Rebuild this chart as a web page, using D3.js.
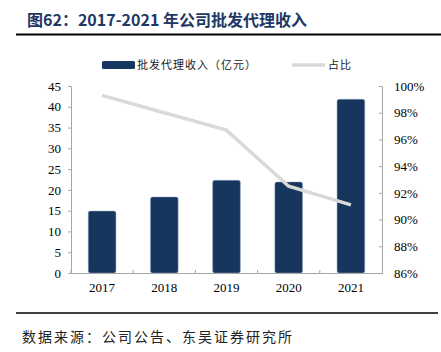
<!DOCTYPE html>
<html>
<head>
<meta charset="utf-8">
<script src="https://cdn.jsdelivr.net/npm/d3@7"></script>
<style>
  body { margin: 0; background: #fff; }
  svg { display: block; }
  .axis text { font-family: "Liberation Serif", "Times New Roman", serif; font-size: 13px; fill: #000; }
  .axis path, .axis line { stroke: #a6a6a6; }
</style>
</head>
<body>
<svg id="chart" width="441" height="352"></svg>
<script>
var years = ["2017", "2018", "2019", "2020", "2021"];
var revenue = [14.9, 18.3, 22.3, 21.9, 41.8];
var share = [99.3, 98.0, 96.7, 92.5, 91.1];
var leftTicks = [0, 5, 10, 15, 20, 25, 30, 35, 40, 45];
var rightTicks = [86, 88, 90, 92, 94, 96, 98, 100];

var svg = d3.select("svg#chart"),
    margin = {top: 86, right: 59, bottom: 79, left: 71},
    width = +svg.attr("width") - margin.left - margin.right,
    height = +svg.attr("height") - margin.top - margin.bottom,
    g = svg.append("g").attr("transform", "translate(" + margin.left + "," + margin.top + ")");

// title + rules
svg.append("text")
    .attr("x", 27).attr("y", 26)
    .attr("font-family", "'Noto Sans CJK SC', sans-serif")
    .attr("font-weight", "bold")
    .attr("font-size", 16)
    .attr("fill", "#1f3864")
    .text("图62：2017-2021 年公司批发代理收入");

svg.append("line")
    .attr("x1", 16).attr("x2", 441).attr("y1", 34.5).attr("y2", 34.5)
    .attr("stroke", "#000").attr("stroke-width", 2);

svg.append("line")
    .attr("x1", 16).attr("x2", 438).attr("y1", 313).attr("y2", 313)
    .attr("stroke", "#000").attr("stroke-width", 1.5);

svg.append("text")
    .attr("x", 22).attr("y", 342)
    .attr("font-family", "'Noto Sans CJK SC', sans-serif")
    .attr("font-size", 14)
    .attr("letter-spacing", 2)
    .attr("fill", "#222")
    .text("数据来源：公司公告、东吴证券研究所");

var x = d3.scaleBand()
    .domain(years)
    .range([0, width])
    .paddingInner(0.555)
    .paddingOuter(0.2775);

var y = d3.scaleLinear().domain([0, 45]).range([height, 0]);
var y2 = d3.scaleLinear().domain([86, 100]).range([height, 0]);

// bars
g.append("g")
  .selectAll("rect")
  .data(years)
  .enter().append("rect")
    .attr("x", function(d) { return x(d); })
    .attr("y", function(d, i) { return y(revenue[i]); })
    .attr("width", x.bandwidth())
    .attr("height", function(d, i) { return height - y(revenue[i]); })
    .attr("rx", 2)
    .attr("fill", "#17365d")
    .attr("stroke", "#8ea3bd")
    .attr("stroke-width", 0.5);

// axes
g.append("g")
    .attr("class", "axis")
    .call(d3.axisLeft(y).tickValues(leftTicks).tickSize(3).tickPadding(7));

g.append("g")
    .attr("class", "axis")
    .attr("transform", "translate(" + width + ",0)")
    .call(d3.axisRight(y2).tickValues(rightTicks).tickSize(-3).tickPadding(12)
        .tickFormat(function(d) { return d + "%"; }));

var bx = g.append("g")
    .attr("class", "axis")
    .attr("transform", "translate(0," + height + ")")
    .call(d3.axisBottom(x).tickSize(0).tickPadding(10));

// category separators on x axis
bx.selectAll(".sep")
  .data(years)
  .enter().append("line")
    .attr("class", "sep")
    .attr("x1", function(d) { return x(d) - x.step() * x.paddingOuter(); })
    .attr("x2", function(d) { return x(d) - x.step() * x.paddingOuter(); })
    .attr("y1", 0).attr("y2", -3);

// share line
var line = d3.line()
    .x(function(d, i) { return x(years[i]) + x.bandwidth() / 2; })
    .y(function(d) { return y2(d); });

g.append("path")
    .datum(share)
    .attr("fill", "none")
    .attr("stroke", "#d9d9d9")
    .attr("stroke-width", 3.5)
    .attr("d", line);

// legend
var lg = svg.append("g")
    .attr("font-family", "'Noto Sans CJK SC', sans-serif")
    .attr("font-size", 11)
    .attr("letter-spacing", 1)
    .attr("fill", "#222");

lg.append("rect")
    .attr("x", 102).attr("y", 61).attr("width", 33).attr("height", 8).attr("rx", 1.5)
    .attr("fill", "#17365d");
lg.append("text").attr("x", 137).attr("y", 69).text("批发代理收入（亿元）");

lg.append("line")
    .attr("x1", 292).attr("x2", 325).attr("y1", 65).attr("y2", 65)
    .attr("stroke", "#d9d9d9").attr("stroke-width", 3.5);
lg.append("text").attr("x", 328).attr("y", 69).text("占比");
</script>
</body>
</html>
